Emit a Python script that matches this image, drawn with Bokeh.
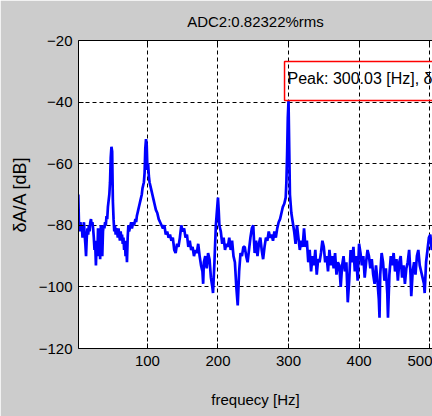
from bokeh.plotting import figure
from bokeh.models import Range1d, LinearAxis, FixedTicker, Label
from bokeh.embed import file_html
from bokeh.resources import INLINE

# ---- data ----
freq_hz = [2, 3, 4, 5, 6, 7, 8, 9, 10, 11, 12, 13, 14, 15, 16, 17, 18, 19, 20,
           21, 22, 23, 24, 25, 26, 27, 28, 29, 30, 31, 32, 33, 34, 35, 36, 37, 38, 39, 40,
           41, 42, 43, 44, 45, 46, 47, 48, 49, 50, 51, 52, 53, 54, 55, 56, 57, 58, 59, 60,
           61, 62, 63, 64, 65, 66, 67, 68, 69, 70, 71, 72, 73, 74, 75, 76, 77, 78, 79, 80,
           81, 82, 83, 84, 85, 86, 87, 88, 89, 90, 91, 92, 93, 94, 95, 96, 97, 98, 99, 100,
           101, 102, 103, 104, 105, 106, 107, 108, 109, 110, 112, 114, 116, 118, 120,
           122, 124, 126, 128, 130, 132, 134, 136, 138, 140, 142, 144, 146, 148, 150,
           152, 154, 156, 158, 160, 162, 164, 166, 168, 170, 172, 174, 176, 178, 179, 180,
           182, 184, 186, 188, 190, 192, 193, 195, 197, 198, 200, 201, 202, 204, 206, 208,
           210, 212, 214, 216, 218, 220, 222, 224, 226, 228, 230, 232, 234, 236, 238, 240,
           242, 244, 246, 248, 250, 252, 254, 256, 258, 260, 262, 264, 266, 268, 270, 272,
           274, 276, 278, 280, 282, 284, 286, 288, 290, 292, 294, 296, 297, 298, 299, 300,
           301, 302, 303, 304, 306, 308, 310, 312, 314, 316, 318, 320, 322, 324, 326, 328,
           330, 332, 334, 336, 338, 340, 342, 344, 346, 348, 350, 352, 354, 356, 358, 360,
           362, 364, 366, 368, 370, 372, 374, 376, 378, 380, 382, 384, 386, 388, 390, 392,
           394, 396, 398, 400, 402, 404, 406, 408, 410, 412, 414, 416, 418, 420, 422, 424,
           426, 428, 429, 430, 432, 434, 436, 438, 440, 441, 443, 445, 447, 449, 451, 453,
           455, 457, 459, 461, 463, 465, 467, 469, 471, 473, 474, 476, 478, 480, 482, 484,
           486, 488, 490, 492, 493, 495, 497, 499, 501, 503, 505]
amp_db = [-70, -80, -82, -79, -81, -80, -84, -81, -79, -83, -86, -90, -84, -81, -83, -80, -82, -79, -78,
          -80, -79, -81, -84, -88, -86, -93, -85, -90, -81, -88, -83, -91, -80, -86, -90, -82, -80, -81, -79,
          -80, -77, -78, -74, -72, -70, -66, -58, -54.5, -56, -72, -78, -82, -80, -83, -81, -82, -84, -81, -83,
          -85, -82, -84, -83, -86, -84, -88, -85, -90, -86, -92, -84, -80, -82, -81, -80, -79, -81, -80, -79,
          -80, -79, -78, -79, -77, -76, -75, -74, -73, -72, -71, -70, -68, -67, -66, -63, -55, -52, -54, -62,
          -60, -64, -66, -67, -68, -69, -70, -71, -72, -73, -75, -76, -78, -79, -80,
          -81, -80, -83, -82, -84, -83, -85, -84, -88, -89, -86, -87, -84, -80, -82,
          -81, -84, -83, -87, -85, -88, -87, -90, -88, -89, -86, -90, -93, -95, -99, -92,
          -90, -94, -89, -91, -97, -100, -102, -92, -80, -77, -71, -75, -80, -82, -86, -84,
          -88, -86, -87, -84, -88, -85, -90, -92, -100, -106, -95, -89, -90, -87, -87, -90,
          -92, -88, -84, -81, -80, -89, -85, -90, -86, -84, -88, -91, -87, -84, -85, -82,
          -84, -83, -85, -82, -84, -81, -79, -78, -76, -74, -73, -71, -66, -57, -45, -39.5,
          -55, -70, -73, -76, -79, -82, -86, -80, -84, -88, -85, -87, -81, -87, -85, -92,
          -88, -95, -90, -93, -88, -96, -91, -92, -89, -85, -87, -92, -90, -95, -88, -93,
          -90, -94, -89, -96, -92, -93, -100, -93, -90, -95, -92, -105, -98, -88, -92, -87,
          -95, -90, -98, -86, -89, -93, -90, -97, -92, -88, -90, -94, -91, -96, -99, -93,
          -98, -104, -110, -96, -89, -92, -98, -94, -102, -110, -96, -90, -93, -89, -95, -91,
          -98, -92, -90, -97, -93, -99, -94, -92, -88, -96, -103, -95, -92, -96, -90, -88,
          -93, -95, -97, -99, -102, -92, -88, -84, -83, -88, -86]
x_ticks = [100, 200, 300, 400, 500]
y_ticks = [-120, -100, -80, -60, -40, -20]
title_text = "ADC2:0.82322%rms"
x_label = "frequecy [Hz]"
y_label = "δA/A [dB]"
peak_freq = 300.03
peak_db = max(amp_db)
peak_text = "Peak: %.2f [Hz], δA/A: %.1f [dB]" % (peak_freq, peak_db)

FONT = "Liberation Sans"
GRAY = "#cccccc"

p = figure(width=432, height=416, output_backend="svg", toolbar_location=None,
           x_range=Range1d(2.3, 504.1), y_range=Range1d(-120, -20),
           background_fill_color="white", border_fill_color=GRAY,
           min_border_left=78, min_border_right=0, min_border_top=0, min_border_bottom=68)
p.outline_line_color = None

p.title.text = title_text
p.title.align = "center"
p.title.text_font = FONT
p.title.text_font_style = "normal"
p.title.text_font_size = "15px"
p.title.text_color = "black"
p.title.standoff = 21

for ax in (p.xaxis[0], p.yaxis[0]):
    ax.major_tick_in = 5
    ax.major_tick_out = 0
    ax.minor_tick_line_color = None
    ax.axis_line_color = "black"
    ax.major_tick_line_color = "black"
    ax.major_label_text_font = FONT
    ax.major_label_text_font_size = "15px"
    ax.major_label_text_color = "black"
    ax.axis_label_text_font = FONT
    ax.axis_label_text_font_style = "normal"
    ax.axis_label_text_color = "black"

p.xaxis[0].ticker = FixedTicker(ticks=x_ticks)
p.yaxis[0].ticker = FixedTicker(ticks=y_ticks)
p.xaxis[0].axis_label = x_label
p.xaxis[0].axis_label_text_font_size = "15px"
p.xaxis[0].major_label_standoff = 7
p.xaxis[0].axis_label_standoff = 22
p.yaxis[0].axis_label = y_label
p.yaxis[0].axis_label_text_font_size = "18px"
p.yaxis[0].major_label_standoff = 6
p.yaxis[0].axis_label_standoff = 6

top = LinearAxis(ticker=FixedTicker(ticks=x_ticks), major_label_text_color=None,
                 major_tick_in=5, major_tick_out=0, minor_tick_line_color=None,
                 axis_line_color="black", major_tick_line_color="black",
                 major_label_standoff=0)
p.add_layout(top, "above")

p.xgrid.grid_line_color = "black"
p.ygrid.grid_line_color = "black"
p.xgrid.grid_line_dash = "4 3"
p.ygrid.grid_line_dash = "4 3"
p.xgrid.grid_line_alpha = 1.0
p.ygrid.grid_line_alpha = 1.0

p.line(freq_hz, amp_db, line_color="#0000ff", line_width=2.7)

lbl = Label(x=peak_freq, y=peak_db, text=peak_text, text_align="left",
            text_baseline="bottom", text_font=FONT, text_font_size="16px",
            text_color="black", border_line_color="red", border_line_width=1.5,
            x_offset=-4, padding=dict(left=3, right=3, top=8, bottom=14))
p.add_layout(lbl)

open("out.html", "w").write(file_html(p, INLINE))
